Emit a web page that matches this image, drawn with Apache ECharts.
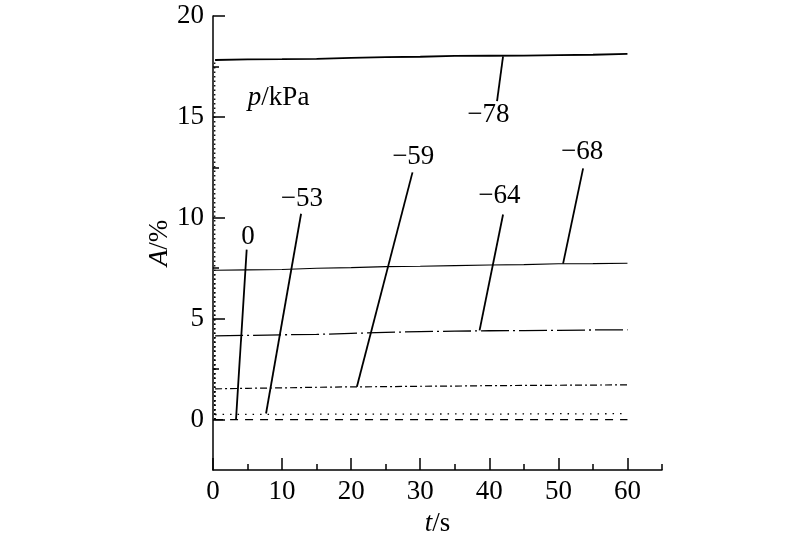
<!DOCTYPE html>
<html>
<head>
<meta charset="utf-8">
<script src="https://cdn.jsdelivr.net/npm/echarts@6/dist/echarts.min.js"></script>
<style>html,body{margin:0;padding:0;background:#fff}#c{width:800px;height:542px}</style>
</head>
<body>
<div id="c"></div>
<script>
// ---- data ----
const times = [0.3, 5, 10, 15, 20, 25, 30, 35, 40, 45, 50, 55, 60];
const p0  = [0, 0, 0, 0, 0, 0, 0, 0, 0, 0, 0, 0, 0];
const p53 = [0.25, 0.26, 0.25, 0.27, 0.26, 0.27, 0.27, 0.28, 0.27, 0.28, 0.29, 0.28, 0.30];
const p59 = [1.52, 1.55, 1.57, 1.60, 1.62, 1.63, 1.65, 1.66, 1.68, 1.69, 1.70, 1.71, 1.72];
const p64 = [4.15, 4.17, 4.20, 4.22, 4.27, 4.32, 4.36, 4.38, 4.40, 4.41, 4.42, 4.44, 4.45];
const p68 = [7.40, 7.42, 7.44, 7.50, 7.53, 7.58, 7.60, 7.63, 7.66, 7.68, 7.72, 7.73, 7.75];
const p78 = [17.82, 17.85, 17.86, 17.88, 17.92, 17.96, 17.98, 18.02, 18.03, 18.04, 18.06, 18.08, 18.12];
const riseT = 0.25;

const xTickLabels = [0, 10, 20, 30, 40, 50, 60];
const xMinorTicks = [5, 15, 25, 35, 45, 55, 65];
const yTickLabels = [0, 5, 10, 15, 20];
const yMinorTicks = [2.5, 7.5, 12.5, 17.5];

const labelNames = ['0', '\u221253', '\u221259', '\u221264', '\u221268', '\u221278'];
const labelPos = [[5.07, 9.06], [12.86, 10.94], [28.99, 13.0], [41.45, 11.08], [53.43, 13.27], [39.86, 15.12]];
const leaderStart = [[4.88, 8.42], [12.75, 10.2], [28.88, 12.25], [41.99, 10.16], [53.58, 12.45], [41.99, 18.0]];
const leaderEnd = [[3.33, 0.0], [7.68, 0.3], [20.83, 1.63], [38.59, 4.42], [50.68, 7.73], [41.12, 15.78]];
const unitPos = [9.5, 15.95];

// ---- chart ----
const FONT = "'Liberation Serif','Times New Roman',serif";
const FS = 27;
const zip = (vals) => times.map((t, i) => [t, vals[i]]);

const seriesDefs = [
  {vals: p0, type: [8, 7], w: 1.3},
  {vals: p53, type: [1.5, 6], w: 1.3},
  {vals: p59, type: [7, 3, 2, 3], w: 1.2},
  {vals: p64, type: [28, 4, 2, 4], w: 1.3},
  {vals: p68, type: 'solid', w: 1.1},
  {vals: p78, type: 'solid', w: 1.8}
];

const series = [];
seriesDefs.forEach((d) => {
  series.push({
    type: 'line', data: zip(d.vals), symbol: 'none', silent: true,
    lineStyle: {color: '#000', width: d.w, type: d.type}
  });
  if (d.vals[0] > 0) {
    series.push({
      type: 'line', data: [[riseT, 0], [riseT, d.vals[0]]], symbol: 'none', silent: true,
      lineStyle: {color: '#000', width: 1.3, type: [1.5, 3]}
    });
  }
});
labelNames.forEach((n, i) => {
  series.push({
    type: 'line', data: [leaderStart[i], leaderEnd[i]], symbol: 'none', silent: true,
    lineStyle: {color: '#000', width: 1.8}
  });
});
const labelStyle = {show: true, position: 'inside', color: '#000', fontFamily: FONT, fontSize: FS,
  textBorderWidth: 0, textBorderColor: 'transparent', opacity: 1};
series.push({
  type: 'scatter', symbolSize: 1, silent: true, z: 5,
  itemStyle: {color: 'rgba(255,255,255,0)'},
  data: labelNames.map((n, i) => ({value: labelPos[i], name: n})),
  label: Object.assign({}, labelStyle, {formatter: '{b}'})
});
series.push({
  type: 'scatter', symbolSize: 1, silent: true, z: 5,
  itemStyle: {color: 'rgba(255,255,255,0)'},
  data: [{value: unitPos, name: 'p'}],
  label: Object.assign({}, labelStyle, {formatter: '{i|p}/kPa',
    rich: {i: {fontStyle: 'italic', fontFamily: FONT, fontSize: FS, color: '#000'}}})
});

const axisLineStyle = {color: '#000', width: 1.5};
const option = {
  animation: false,
  backgroundColor: '#fff',
  grid: {left: 213, right: 138, top: 16, bottom: 70},
  xAxis: [
    {
      type: 'value', min: 0, max: 65, interval: 5, position: 'bottom',
      axisLine: {onZero: false, lineStyle: axisLineStyle},
      axisTick: {inside: true, length: 12, customValues: xTickLabels, lineStyle: axisLineStyle},
      axisLabel: {customValues: xTickLabels, color: '#000', fontFamily: FONT, fontSize: FS, margin: 8},
      splitLine: {show: false},
      name: '{i|t}/s', nameLocation: 'middle', nameGap: 40,
      nameTextStyle: {color: '#000', fontFamily: FONT, fontSize: FS,
        rich: {i: {fontStyle: 'italic', fontFamily: FONT, fontSize: FS, color: '#000'}}}
    },
    {
      type: 'value', min: 0, max: 65, interval: 5, position: 'bottom', offset: 0,
      axisLine: {show: false, onZero: false},
      axisTick: {inside: true, length: 6, customValues: xMinorTicks, lineStyle: axisLineStyle},
      axisLabel: {show: false}, splitLine: {show: false}
    }
  ],
  yAxis: [
    {
      type: 'value', min: -2.5, max: 20, interval: 2.5, position: 'left',
      axisLine: {show: true, onZero: false, lineStyle: axisLineStyle},
      axisTick: {show: true, inside: true, length: 12, customValues: yTickLabels, lineStyle: axisLineStyle},
      axisLabel: {customValues: yTickLabels, color: '#000', fontFamily: FONT, fontSize: FS, margin: 9},
      splitLine: {show: false},
      name: '{i|A}/%', nameLocation: 'middle', nameGap: 40, nameRotate: 90, nameMoveOverlap: false,
      nameTextStyle: {color: '#000', fontFamily: FONT, fontSize: FS,
        rich: {i: {fontStyle: 'italic', fontFamily: FONT, fontSize: FS, color: '#000'}}}
    },
    {
      type: 'value', min: -2.5, max: 20, interval: 2.5, position: 'left', offset: 0,
      axisLine: {show: false, onZero: false},
      axisTick: {show: true, inside: true, length: 6, customValues: yMinorTicks, lineStyle: axisLineStyle},
      axisLabel: {show: false}, splitLine: {show: false}
    }
  ],
  series: series
};
const chart = echarts.init(document.getElementById('c'), null, {renderer: 'canvas'});
chart.setOption(option);
</script>
</body>
</html>
